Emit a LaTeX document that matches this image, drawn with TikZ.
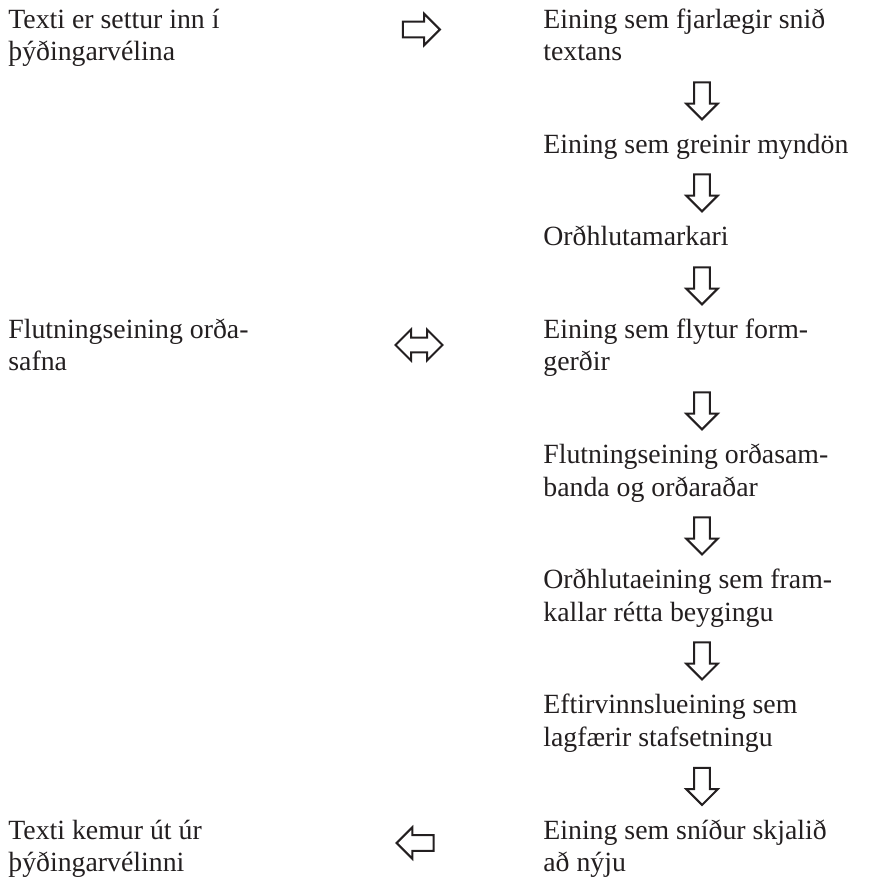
\documentclass[tikz,border=0pt]{standalone}
\usepackage{fontspec}
\setmainfont{Liberation Serif}
\usetikzlibrary{shapes.arrows}
\definecolor{ink}{RGB}{35,31,32}
\tikzset{
  txt/.style={anchor=base west, inner sep=0pt, align=left,
    font=\fontsize{13.9}{16.35}\selectfont, text=ink},
  blk/.style={single arrow, draw=ink, line width=1pt, inner sep=3.4pt,
    minimum height=18.5pt, minimum width=15pt,
    single arrow head extend=4pt, single arrow tip angle=90,
    single arrow head indent=0pt},
  blkdown/.style={blk, shape border rotate=270},
  blkright/.style={blk, shape border rotate=0},
  blkleft/.style={blk, shape border rotate=180},
  blkboth/.style={double arrow, draw=ink, line width=1pt, inner sep=3.2pt,
    minimum height=23.5pt, minimum width=15.5pt,
    double arrow head extend=4pt, double arrow tip angle=90,
    double arrow head indent=0pt}
}
\begin{document}
\begin{tikzpicture}[x=0.5pt, y=-0.5pt]
    \useasboundingbox (0,0) rectangle (870,879);
    % left column (base = last line)
    \node[txt] (inn) at (8,60.7) {Texti er settur inn í\\þýðingarvélina};
    \node[txt] (safn) at (8,370.9) {Flutningseining orða-\\safna};
    \node[txt] (ut) at (8,871.7) {Texti kemur út úr\\þýðingarvélinni};
    % right column
    \node[txt] (snid) at (543,60.7) {Eining sem fjarlægir snið\\textans};
    \node[txt] (myndon) at (543,153.2) {Eining sem greinir myndön};
    \node[txt] (mark) at (543,245.7) {Orðhlutamarkari};
    \node[txt] (form) at (543,370.9) {Eining sem flytur form-\\gerðir};
    \node[txt] (ordsam) at (543,496.1) {Flutningseining orðasam-\\banda og orðaraðar};
    \node[txt] (beyg) at (543,621.3) {Orðhlutaeining sem fram-\\kallar rétta beygingu};
    \node[txt] (staf) at (543,746.5) {Eftirvinnslueining sem\\lagfærir stafsetningu};
    \node[txt] (skjal) at (543,871.7) {Eining sem sníður skjalið\\að nýju};
    % arrows
    \node[blkright] (inn-snid) at (417.5,29.5) {};
    \node[blkboth] (safn-form) at (419,345) {};
    \node[blkleft] (skjal-ut) at (419,843) {};
    \node[blkdown] (a1) at (702,97) {};
    \node[blkdown] (a2) at (702,189) {};
    \node[blkdown] (a3) at (702,282) {};
    \node[blkdown] (a4) at (702,407) {};
    \node[blkdown] (a5) at (702,532) {};
    \node[blkdown] (a6) at (702,657) {};
    \node[blkdown] (a7) at (702,782.5) {};
\end{tikzpicture}
\end{document}
